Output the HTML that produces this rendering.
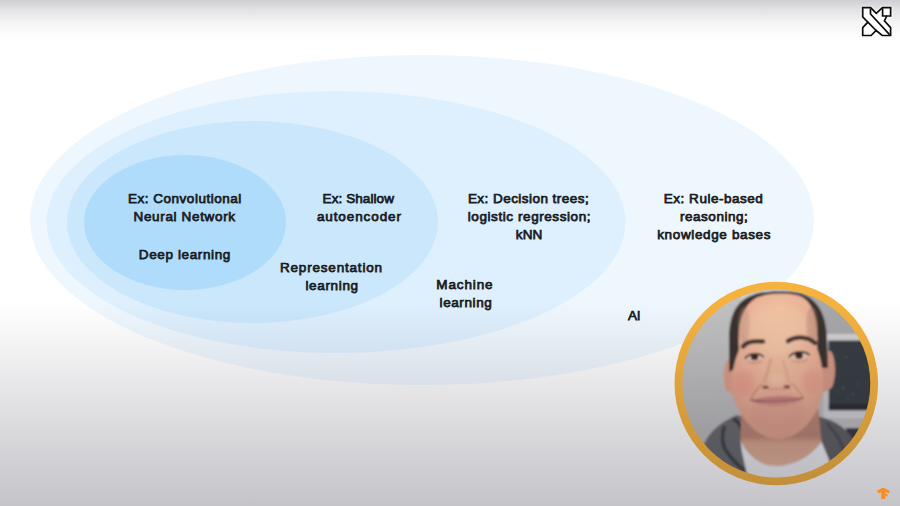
<!DOCTYPE html>
<html><head><meta charset="utf-8">
<style>
html,body{margin:0;padding:0;}
body{width:900px;height:506px;overflow:hidden;position:relative;background:#fff;font-family:"Liberation Sans",sans-serif;}
svg{position:absolute;left:0;top:0;}
.t{position:absolute;font-size:13.5px;line-height:18px;color:#1a1c22;white-space:nowrap;-webkit-text-stroke:0.75px #1a1c22;}
.ov{position:absolute;left:0;width:900px;pointer-events:none;}
</style></head>
<body>
<svg width="900" height="506" viewBox="0 0 900 506">
  <ellipse cx="422" cy="220" rx="392" ry="165" fill="#eff7fe"/>
  <ellipse cx="336" cy="222" rx="289.5" ry="131" fill="#deeffd"/>
  <ellipse cx="252.5" cy="222" rx="185.5" ry="101" fill="#cae7fc"/>
  <ellipse cx="185" cy="222.5" rx="101" ry="67.5" fill="#b0dcfb"/>
</svg>

<div class="t" style="left:128.0px;top:189.8px;letter-spacing:0.512px">Ex: Convolutional</div>
<div class="t" style="left:133.5px;top:207.9px;letter-spacing:0.654px">Neural Network</div>
<div class="t" style="left:138.8px;top:246.4px;letter-spacing:0.617px">Deep learning</div>
<div class="t" style="left:322.6px;top:190.0px;letter-spacing:0.08px">Ex: Shallow</div>
<div class="t" style="left:316.9px;top:207.8px;letter-spacing:0.9px">autoencoder</div>
<div class="t" style="left:280.0px;top:259.0px;letter-spacing:0.807px">Representation</div>
<div class="t" style="left:305.4px;top:277.3px;letter-spacing:0.671px">learning</div>
<div class="t" style="left:467.9px;top:189.9px;letter-spacing:0.456px">Ex: Decision trees;</div>
<div class="t" style="left:467.8px;top:208.2px;letter-spacing:0.574px">logistic regression;</div>
<div class="t" style="left:515.8px;top:226.4px;letter-spacing:0.1px">kNN</div>
<div class="t" style="left:436.3px;top:276.2px;letter-spacing:0.867px">Machine</div>
<div class="t" style="left:439.6px;top:294.2px;letter-spacing:0.586px">learning</div>
<div class="t" style="left:663.8px;top:189.9px;letter-spacing:0.515px">Ex: Rule-based</div>
<div class="t" style="left:679.9px;top:208.2px;letter-spacing:0.544px">reasoning;</div>
<div class="t" style="left:657.2px;top:226.2px;letter-spacing:0.643px">knowledge bases</div>
<div class="t" style="left:628.1px;top:307.2px;letter-spacing:-0.3px">AI</div>

<!-- photo -->
<svg width="900" height="506" viewBox="0 0 900 506">
  <defs>
    <clipPath id="cc"><circle cx="776.3" cy="383.5" r="94"/></clipPath>
    <filter id="bl" x="-10%" y="-10%" width="120%" height="120%"><feGaussianBlur stdDeviation="0.8"/></filter>
    <filter id="bl2" x="-50%" y="-50%" width="200%" height="200%"><feGaussianBlur stdDeviation="3"/></filter>
    <linearGradient id="bgg" x1="0" y1="0" x2="0.2" y2="1">
      <stop offset="0" stop-color="#c3c3c4"/>
      <stop offset="1" stop-color="#b4b4b5"/>
    </linearGradient>
    <radialGradient id="skin" cx="0.5" cy="0.3" r="0.7">
      <stop offset="0" stop-color="#f0c2a2"/>
      <stop offset="0.55" stop-color="#ebb398"/>
      <stop offset="1" stop-color="#dc9f88"/>
    </radialGradient>
    <linearGradient id="neck" gradientUnits="userSpaceOnUse" x1="0" y1="436" x2="0" y2="466">
      <stop offset="0" stop-color="#b88472"/>
      <stop offset="0.25" stop-color="#d6a48c"/>
      <stop offset="1" stop-color="#e2b298"/>
    </linearGradient>
  </defs>
  <circle cx="776.3" cy="383.5" r="101.8" fill="#f5b23e"/>
  <g clip-path="url(#cc)">
   <g filter="url(#bl)">
    <rect x="670" y="280" width="220" height="210" fill="url(#bgg)"/>
    <!-- light wall strip top -->
    <path d="M741 280 L790 280 L790 320 L741 320 Z" fill="#cdcdce"/>
    <!-- right darker wall -->
    <path d="M800 280 L880 280 L880 334 L800 334 Z" fill="#a8a8ab"/>
    <!-- frame -->
    <rect x="824" y="334" width="60" height="6.5" fill="#d0d0d2"/>
    <rect x="828.5" y="340.5" width="57" height="70" fill="#393d42"/>
    <g fill="#6a6e72" opacity="0.7"><circle cx="846" cy="357" r="0.9"/><circle cx="843" cy="388" r="1"/><circle cx="853" cy="394" r="0.9"/><circle cx="838" cy="392" r="0.8"/><circle cx="858" cy="384" r="0.8"/><circle cx="866" cy="367" r="0.8"/><circle cx="848" cy="398" r="0.8"/></g>
    <rect x="828.5" y="404" width="57" height="6.5" fill="#2c2f33"/>
    <rect x="823.5" y="384" width="5" height="34" fill="#c9c9cb"/>
    <rect x="823.5" y="410.5" width="60" height="8" fill="#cfcfd1"/>
    <rect x="824" y="419" width="60" height="10" fill="#bcbcbe"/>
    <rect x="846" y="428" width="26" height="16" fill="#38393d"/>
    <!-- hoodie -->
    <path d="M690 480 C694 462 700 450 705 442 C710 432 720 422 737 415 L742 417 L742 445 L752 470 L756 490 L690 490 Z" fill="#68686c"/>
    <path d="M816 416 C828 418 842 424 850 435 C856 442 862 452 868 462 L880 490 L826 490 L829 460 L821.5 442 Z" fill="#5e5e62"/>
    <!-- hood folds -->
    <path d="M724.5 426 C721 436 722 446 727 452 C733 461 738 466 746 471" stroke="#3c3c41" stroke-width="3.5" fill="none"/>
    <path d="M733 419 C738 421 741 425 742 430" stroke="#3a3a3f" stroke-width="4" fill="none"/>
    <path d="M827 424 C836 432 842 442 846 456" stroke="#47474c" stroke-width="2.5" fill="none"/>
    <!-- neck -->
    <path d="M741 405 L818 405 L821.5 442 C810 458 792 466 776 466 C760 466 748 456 740.5 441 Z" fill="url(#neck)"/>
    <!-- t-shirt -->
    <path d="M740.5 441 C748 456 760 466 776 466 C792 466 810 458 821.5 442 L829 460 L834 490 L752 490 L746 470 L742 452 Z" fill="#ececee"/>
    <!-- ears -->
    <ellipse cx="728.5" cy="376" rx="4.8" ry="16" fill="#d99c86"/>
    <ellipse cx="829.5" cy="370" rx="5.5" ry="19" fill="#d49884"/>
    <path d="M728 362 L742 362 L742 398 L731 394 Z" fill="#d99c86"/>
    <path d="M815 356 L829 356 L828 390 L814 398 Z" fill="#d49884"/>
    <!-- hair (head outline) -->
    <path d="M729 372 L729 340 C729 314 737 300 754 294.5 C765 290.5 790 290 801 293.5 C817 299 827 314 827 340 L828 368 L818 368 L736 368 Z" fill="#3a302d"/>
    <!-- face -->
    <path d="M739 350 C737 326 741 307 756 298 C767 292.5 790 292 801 296.5 C814 303 819 322 817 348 C822 362 825 380 822 398 C816 418 800 438 778 439.5 C757 438 742 420 734 400 C730 382 733 364 739 350 Z" fill="url(#skin)"/>
    <!-- temple shading -->
    <ellipse cx="744" cy="325" rx="6" ry="18" fill="#b58a7a" opacity="0.35"/>
    <ellipse cx="812" cy="325" rx="6" ry="18" fill="#a87c6e" opacity="0.4"/>
    <!-- cheeks -->
    <g filter="url(#bl2)">
    <ellipse cx="744" cy="383" rx="11" ry="12" fill="#e48c80" opacity="0.45"/>
    <ellipse cx="812" cy="381" rx="10" ry="12" fill="#e48c80" opacity="0.4"/>
    <ellipse cx="778" cy="412" rx="28" ry="20" fill="#d28c80" opacity="0.3"/>
    <ellipse cx="778" cy="330" rx="30" ry="26" fill="#f4caa8" opacity="0.5"/>
    </g>
    <!-- nasolabial folds -->
    <path d="M762 384 C757 389 753 394 751 400" stroke="#c07a6c" stroke-width="2.2" fill="none" opacity="0.55"/>
    <path d="M791 383 C797 388 801 393 803 399" stroke="#c07a6c" stroke-width="2" fill="none" opacity="0.45"/>
    <!-- eyebrows -->
    <path d="M743 346.5 C746 342.5 752 340.3 763 341.5" stroke="#4a3430" stroke-width="4.6" fill="none" stroke-linecap="round"/>
    <path d="M788 341 C795 336.5 806 335.5 815 343" stroke="#4a3430" stroke-width="4.6" fill="none" stroke-linecap="round"/>
    <!-- eyes -->
    <path d="M746 358 C750 354 758 353.5 762.5 357.5 C758 360.5 750 360.5 746 358 Z" fill="#e6d0c6"/>
    <ellipse cx="754.5" cy="357" rx="3.8" ry="3.2" fill="#3b2521"/>
    <path d="M745 358.5 C749 353 759 352.5 763.5 357" stroke="#3a2622" stroke-width="1.8" fill="none"/>
    <path d="M747.5 362 C752 363.5 758 363.5 762 361" stroke="#b97f70" stroke-width="1.2" fill="none" opacity="0.7"/>
    <path d="M790 357 C794 352.5 804 352 808.5 355.5 C804 359 795 359.5 790 357 Z" fill="#e6d0c6"/>
    <ellipse cx="799" cy="355.6" rx="4" ry="3.3" fill="#3b2521"/>
    <path d="M789 357 C794 350.8 804 350.5 809.5 355" stroke="#3a2622" stroke-width="1.8" fill="none"/>
    <path d="M791.5 361 C796 362.5 803 362.5 807.5 360" stroke="#b97f70" stroke-width="1.2" fill="none" opacity="0.7"/>
    <!-- nose -->
    <path d="M771 358 C769 368 766 376 764 383" stroke="#c48470" stroke-width="3" fill="none" opacity="0.35"/>
    <path d="M783 360 C785 368 788 376 789 382" stroke="#c48470" stroke-width="2.5" fill="none" opacity="0.25"/>
    <ellipse cx="777" cy="379" rx="8" ry="6" fill="#f3c4aa" opacity="0.6"/>
    <ellipse cx="765.5" cy="387.2" rx="3.3" ry="1.8" fill="#8a4a44"/>
    <ellipse cx="787" cy="386.7" rx="3.3" ry="1.8" fill="#8a4a44"/>
    <path d="M768 389 C772 390 776 389.5 779 388.5 C782 389.5 785 389.5 789 388.5" stroke="#b87565" stroke-width="1.2" fill="none" opacity="0.6"/>
    <!-- mouth -->
    <path d="M752 400.5 C762 396 790 394.5 803 398.5 C794 401.5 764 402.5 752 400.5 Z" fill="#c87f7c"/>
    <path d="M753 401 C764 403.5 790 403 802.5 399 C792 408 764 409 753 401 Z" fill="#d08e88"/>
    <path d="M750.5 400 C760 402.5 792 402.5 804 397.5" stroke="#8f5250" stroke-width="1.3" fill="none"/>
   </g>
  </g>
</svg>



<div class="ov" style="top:0;height:48px;background:linear-gradient(to bottom,rgba(30,30,50,0.21) 0px,rgba(30,30,50,0.125) 10px,rgba(30,30,50,0.05) 22px,rgba(30,30,50,0.016) 33px,rgba(30,30,50,0) 42px);"></div>
<div class="ov" style="top:302px;height:204px;background:linear-gradient(to bottom,rgba(20,20,40,0) 0%,rgba(20,20,40,0.045) 18%,rgba(20,20,40,0.12) 48%,rgba(20,20,40,0.2) 79%,rgba(20,20,40,0.25) 100%);"></div>
<!-- logo top right -->
<svg width="900" height="506" viewBox="0 0 900 506">
  <defs><filter id="gl" x="-30%" y="-30%" width="160%" height="160%"><feGaussianBlur stdDeviation="1.2"/></filter></defs>
  <path filter="url(#gl)" fill="#fff" stroke="#fff" stroke-width="3" opacity="0.8" d="M862.7,7.7 L870.6,7.7 L876.3,13.4 L882.5,7.7 L890.6,7.7 L890.6,16 L886.8,16 L884.4,20.9 L890.6,27.6 L890.6,35.5 L882.2,35.5 L876.1,30.5 L871.1,35.5 L862.7,35.5 L862.7,27.7 L867.9,22.2 L862.7,16.8 Z"/>
  <g fill="#fff" stroke="#0d0d0d" stroke-width="1.7" stroke-linejoin="miter">
    <path d="M862.7,7.7 L870.6,7.7 L876.3,13.4 L882.5,7.7 L890.6,7.7 L890.6,16 L886.8,16 L884.4,20.9 L890.6,27.6 L890.6,35.5 L882.2,35.5 L876.1,30.5 L871.1,35.5 L862.7,35.5 L862.7,27.7 L867.9,22.2 L862.7,16.8 Z"/>
    <path d="M870.5,8.4 L870.5,14 L889.6,34.6" fill="none"/>
    <path d="M867.9,22.2 L876.1,30.5" fill="none"/>
    <path d="M882.6,8.2 L882.6,16 L886.8,16" fill="none"/>
  </g>
</svg>
<svg width="900" height="506" viewBox="0 0 900 506">
  <defs><filter id="bl3" x="-50%" y="-50%" width="200%" height="200%"><feGaussianBlur stdDeviation="0.5"/></filter></defs>
  <g filter="url(#bl3)" fill="#fb8d1e">
    <path d="M877,490.8 L883,487.6 L889.8,491 L888.6,493.2 L885.2,491.6 L885.2,499 L881.3,499 L881.3,492.2 L878.6,493.6 Z"/>
    <path d="M885.2,493.6 L887.8,494.6 L887.4,496.6 L885.2,495.8 Z"/>
  </g>
</svg>
</body></html>
